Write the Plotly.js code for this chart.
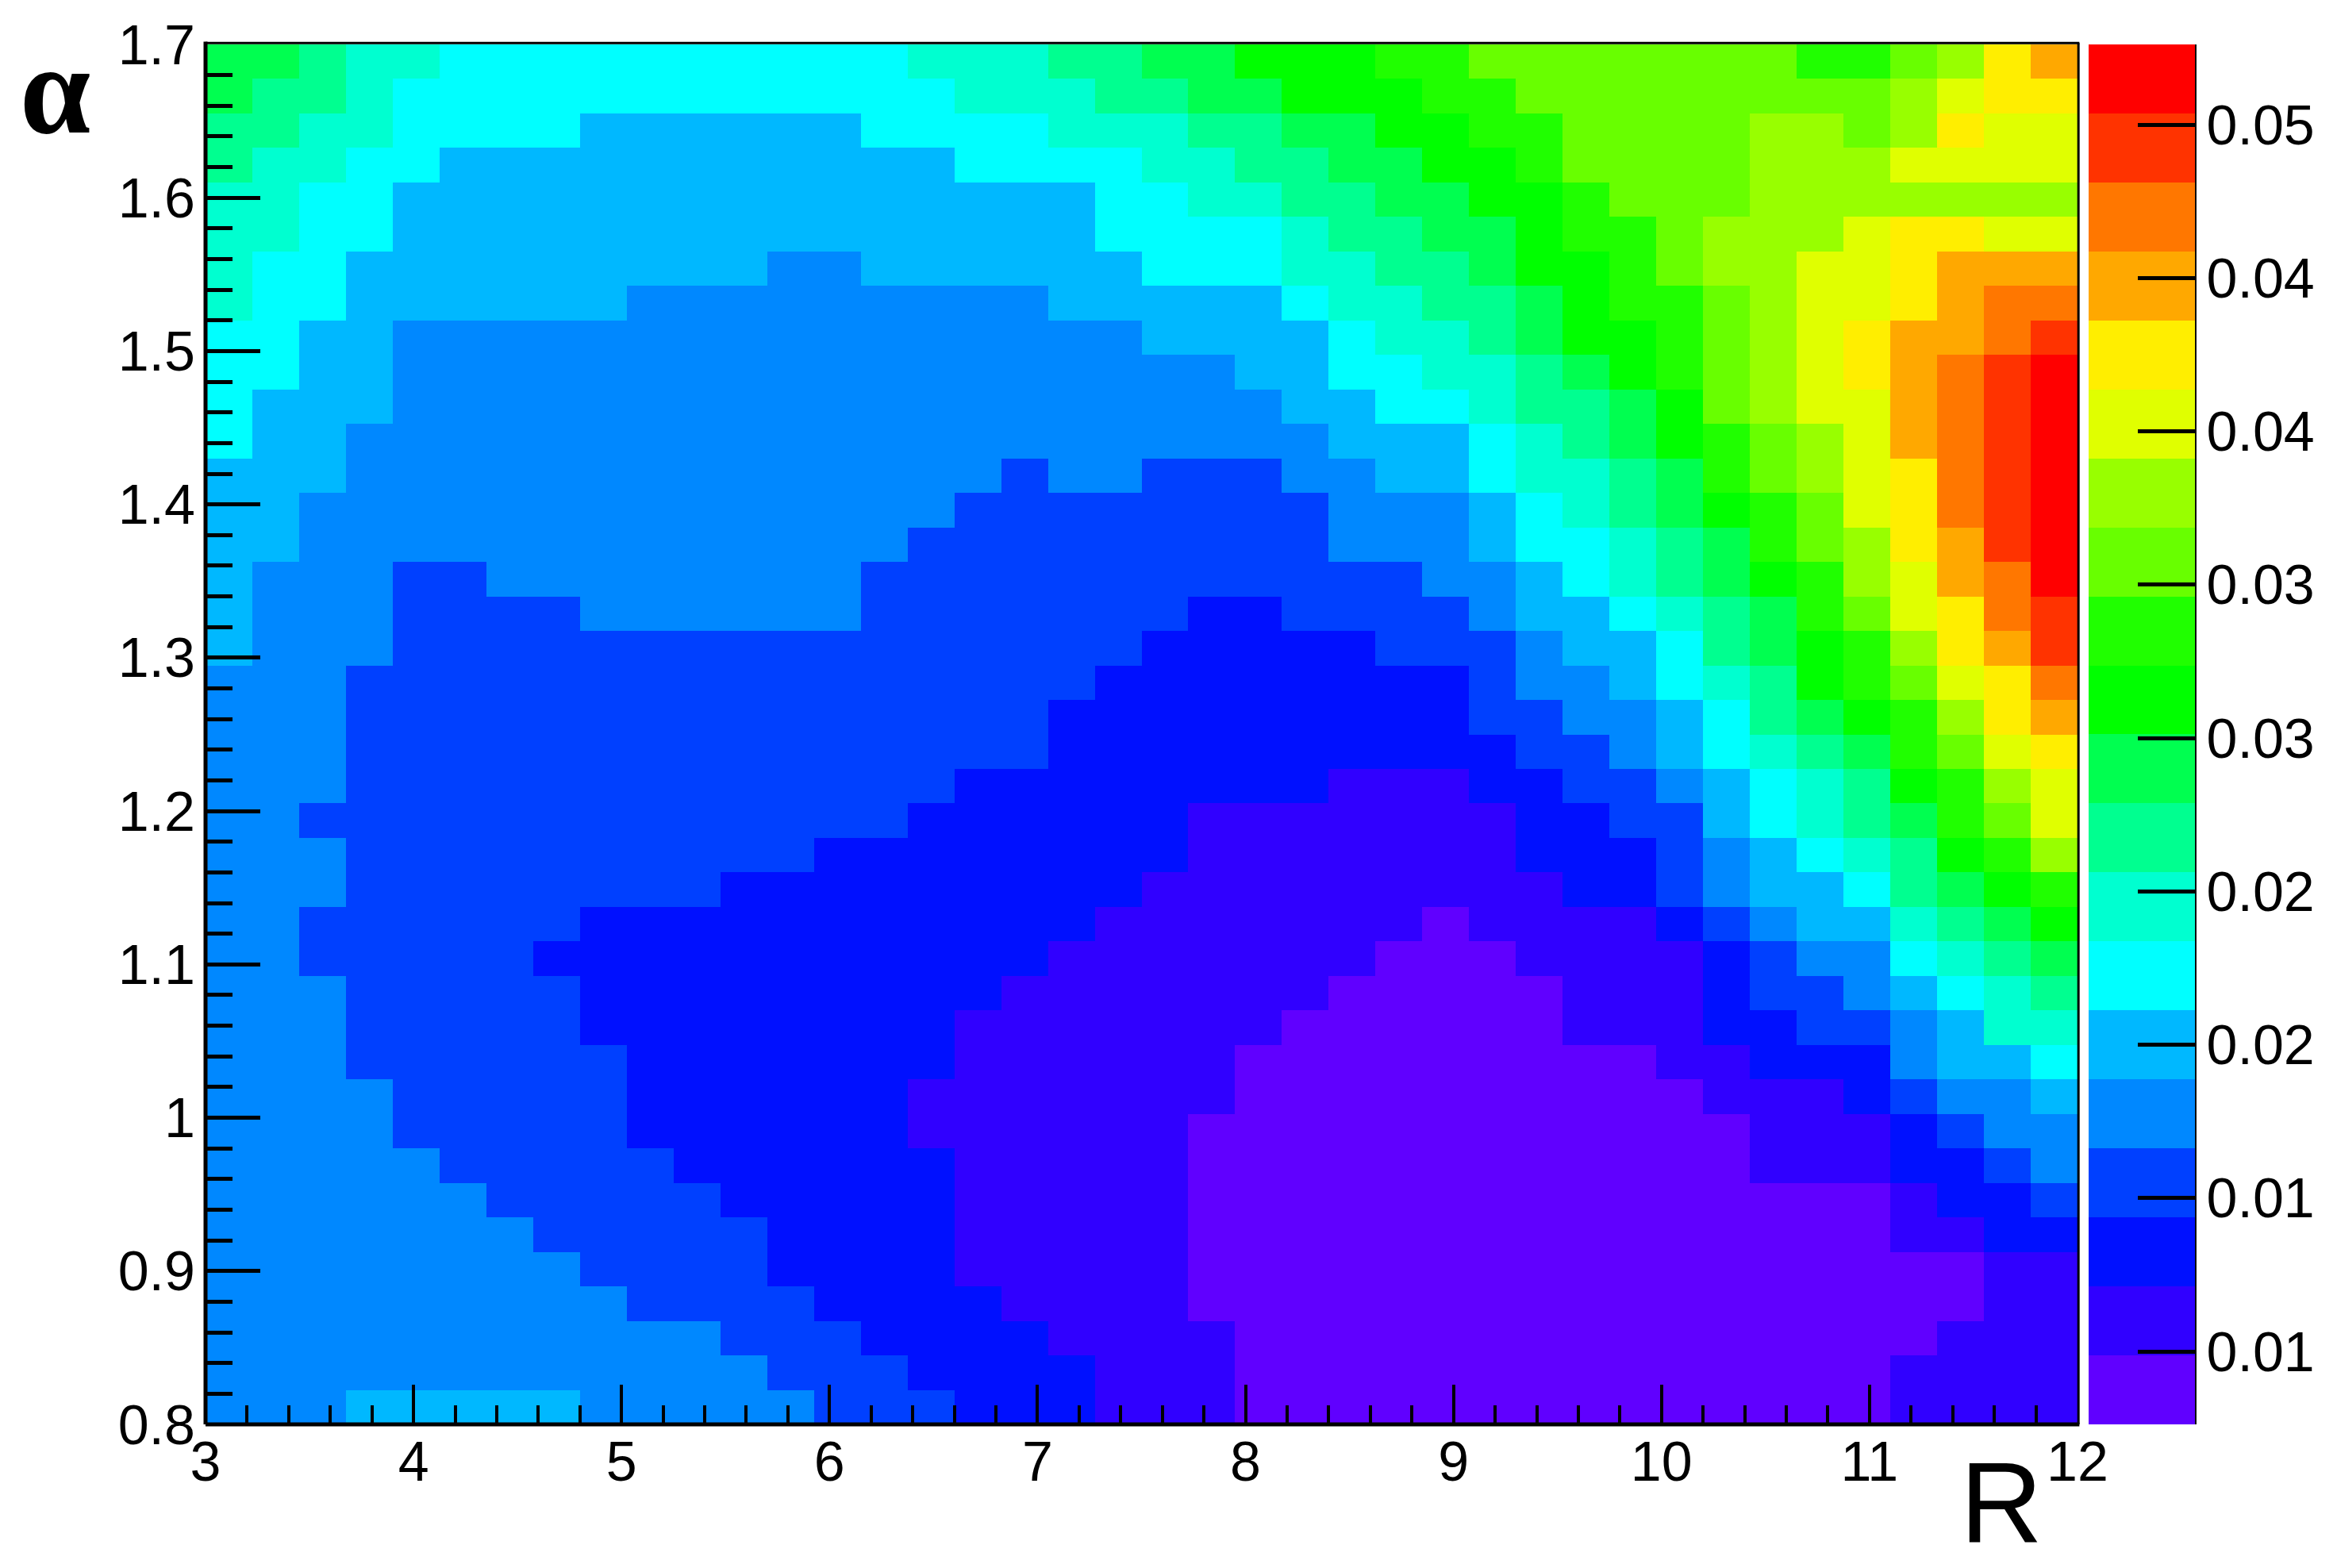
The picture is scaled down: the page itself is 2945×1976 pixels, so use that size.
<!DOCTYPE html>
<html lang="en">
<head>
    <meta charset="UTF-8">
    <style>
        html, body, #plot {
            height: 100%;
            width: 100%;
            margin: 0;
            padding: 0;
            overflow: hidden;
            background: #ffffff;
        }
    </style>
</head>
<body>
<div id="plot"></div>
<script src="https://cdn.plot.ly/plotly-3.0.1.min.js"></script>
<script>
    // colour bands of the palette, bottom to top
    const bandColors = ['#6000ff', '#3000ff', '#0010ff', '#0040ff', '#0088ff', '#00b8ff', '#00ffff', '#00ffd0', '#00ff90', '#00ff50',
                        '#00ff00', '#20ff00', '#68ff00', '#98ff00', '#e0ff00', '#ffee00', '#ffa800', '#ff7700', '#ff3300', '#ff0000'];
    // z value in the middle of each band
    const bandValues = [0.00875, 0.01100, 0.01325, 0.01550, 0.01775, 0.02000, 0.02225, 0.02450, 0.02675, 0.02900,
                        0.03125, 0.03350, 0.03575, 0.03800, 0.04025, 0.04250, 0.04475, 0.04700, 0.04925, 0.05150];
    const zMin = 0.00762;
    const zMax = 0.05262;

    // band of each cell, top row (alpha = 1.7) first, R = 3 on the left
    const bandRows = [
        [9,9,8,7,7,6,6,6,6,6,6,6,6,6,6,7,7,7,8,8,9,9,10,10,10,11,11,12,12,12,12,12,12,12,11,11,12,13,15,16],
        [9,8,8,7,6,6,6,6,6,6,6,6,6,6,6,6,7,7,7,8,8,9,9,10,10,10,11,11,12,12,12,12,12,12,12,12,13,14,15,15],
        [8,8,7,7,6,6,6,6,5,5,5,5,5,5,6,6,6,6,7,7,7,8,8,9,9,10,10,11,11,12,12,12,12,13,13,12,13,15,14,14],
        [8,7,7,6,6,5,5,5,5,5,5,5,5,5,5,5,6,6,6,6,7,7,8,8,9,9,10,10,11,12,12,12,12,13,13,13,14,14,14,14],
        [7,7,6,6,5,5,5,5,5,5,5,5,5,5,5,5,5,5,5,6,6,7,7,8,8,9,9,10,10,11,12,12,12,13,13,13,13,13,13,13],
        [7,7,6,6,5,5,5,5,5,5,5,5,5,5,5,5,5,5,5,6,6,6,6,7,8,8,9,9,10,11,11,12,13,13,13,14,15,15,14,14],
        [7,6,6,5,5,5,5,5,5,5,5,5,4,4,5,5,5,5,5,5,6,6,6,7,7,8,8,9,10,10,11,12,13,13,14,14,15,16,16,16],
        [7,6,6,5,5,5,5,5,5,4,4,4,4,4,4,4,4,4,5,5,5,5,5,6,7,7,8,8,9,10,11,11,12,13,14,14,15,16,17,17],
        [6,6,5,5,4,4,4,4,4,4,4,4,4,4,4,4,4,4,4,4,5,5,5,5,6,7,7,8,9,10,10,11,12,13,14,15,16,16,17,18],
        [6,6,5,5,4,4,4,4,4,4,4,4,4,4,4,4,4,4,4,4,4,4,5,5,6,6,7,7,8,9,10,11,12,13,14,15,16,17,18,19],
        [6,5,5,5,4,4,4,4,4,4,4,4,4,4,4,4,4,4,4,4,4,4,4,5,5,6,6,7,8,8,9,10,12,13,14,14,16,17,18,19],
        [6,5,5,4,4,4,4,4,4,4,4,4,4,4,4,4,4,4,4,4,4,4,4,4,5,5,5,6,7,8,9,10,11,12,13,14,16,17,18,19],
        [5,5,5,4,4,4,4,4,4,4,4,4,4,4,4,4,4,3,4,4,3,3,3,4,4,5,5,6,7,7,8,9,11,12,13,14,15,17,18,19],
        [5,5,4,4,4,4,4,4,4,4,4,4,4,4,4,4,3,3,3,3,3,3,3,3,4,4,4,5,6,7,8,9,10,11,12,14,15,17,18,19],
        [5,5,4,4,4,4,4,4,4,4,4,4,4,4,4,3,3,3,3,3,3,3,3,3,4,4,4,5,6,6,7,8,9,11,12,13,15,16,18,19],
        [5,4,4,4,3,3,4,4,4,4,4,4,4,4,3,3,3,3,3,3,3,3,3,3,3,3,4,4,5,6,7,8,9,10,11,13,14,16,17,19],
        [5,4,4,4,3,3,3,3,4,4,4,4,4,4,3,3,3,3,3,3,3,2,2,3,3,3,3,4,5,5,6,7,8,9,11,12,14,15,17,18],
        [5,4,4,4,3,3,3,3,3,3,3,3,3,3,3,3,3,3,3,3,2,2,2,2,2,3,3,3,4,5,5,6,8,9,10,11,13,15,16,18],
        [4,4,4,3,3,3,3,3,3,3,3,3,3,3,3,3,3,3,3,2,2,2,2,2,2,2,2,3,4,4,5,6,7,8,10,11,12,14,15,17],
        [4,4,4,3,3,3,3,3,3,3,3,3,3,3,3,3,3,3,2,2,2,2,2,2,2,2,2,3,3,4,4,5,6,8,9,10,11,13,15,16],
        [4,4,4,3,3,3,3,3,3,3,3,3,3,3,3,3,3,3,2,2,2,2,2,2,2,2,2,2,3,3,4,5,6,7,8,9,11,12,14,15],
        [4,4,4,3,3,3,3,3,3,3,3,3,3,3,3,3,2,2,2,2,2,2,2,2,1,1,1,2,2,3,3,4,5,6,7,8,10,11,13,14],
        [4,4,3,3,3,3,3,3,3,3,3,3,3,3,3,2,2,2,2,2,2,1,1,1,1,1,1,1,2,2,3,3,5,6,7,8,9,11,12,14],
        [4,4,4,3,3,3,3,3,3,3,3,3,3,2,2,2,2,2,2,2,2,1,1,1,1,1,1,1,2,2,2,3,4,5,6,7,8,10,11,13],
        [4,4,4,3,3,3,3,3,3,3,3,2,2,2,2,2,2,2,2,2,1,1,1,1,1,1,1,1,1,2,2,3,4,5,5,6,8,9,10,11],
        [4,4,3,3,3,3,3,3,2,2,2,2,2,2,2,2,2,2,2,1,1,1,1,1,1,1,0,1,1,1,1,2,3,4,5,5,7,8,9,10],
        [4,4,3,3,3,3,3,2,2,2,2,2,2,2,2,2,2,2,1,1,1,1,1,1,1,0,0,0,1,1,1,1,2,3,4,4,6,7,8,9],
        [4,4,4,3,3,3,3,3,2,2,2,2,2,2,2,2,2,1,1,1,1,1,1,1,0,0,0,0,0,1,1,1,2,3,3,4,5,6,7,8],
        [4,4,4,3,3,3,3,3,2,2,2,2,2,2,2,2,1,1,1,1,1,1,1,0,0,0,0,0,0,1,1,1,2,2,3,3,4,5,7,7],
        [4,4,4,3,3,3,3,3,3,2,2,2,2,2,2,2,1,1,1,1,1,1,0,0,0,0,0,0,0,0,0,1,1,2,2,2,4,5,5,6],
        [4,4,4,4,3,3,3,3,3,2,2,2,2,2,2,1,1,1,1,1,1,1,0,0,0,0,0,0,0,0,0,0,1,1,1,2,3,4,4,5],
        [4,4,4,4,3,3,3,3,3,2,2,2,2,2,2,1,1,1,1,1,1,0,0,0,0,0,0,0,0,0,0,0,0,1,1,1,2,3,4,4],
        [4,4,4,4,4,3,3,3,3,3,2,2,2,2,2,2,1,1,1,1,1,0,0,0,0,0,0,0,0,0,0,0,0,1,1,1,2,2,3,4],
        [4,4,4,4,4,4,3,3,3,3,3,2,2,2,2,2,1,1,1,1,1,0,0,0,0,0,0,0,0,0,0,0,0,0,0,0,1,2,2,3],
        [4,4,4,4,4,4,4,3,3,3,3,3,2,2,2,2,1,1,1,1,1,0,0,0,0,0,0,0,0,0,0,0,0,0,0,0,1,1,2,2],
        [4,4,4,4,4,4,4,4,3,3,3,3,2,2,2,2,1,1,1,1,1,0,0,0,0,0,0,0,0,0,0,0,0,0,0,0,0,0,1,1],
        [4,4,4,4,4,4,4,4,4,3,3,3,3,2,2,2,2,1,1,1,1,0,0,0,0,0,0,0,0,0,0,0,0,0,0,0,0,0,1,1],
        [4,4,4,4,4,4,4,4,4,4,4,3,3,3,2,2,2,2,1,1,1,1,0,0,0,0,0,0,0,0,0,0,0,0,0,0,0,1,1,1],
        [4,4,4,4,4,4,4,4,4,4,4,4,3,3,3,2,2,2,2,1,1,1,0,0,0,0,0,0,0,0,0,0,0,0,0,0,1,1,1,1],
        [4,4,4,5,5,5,5,5,4,4,4,4,4,3,3,3,2,2,2,1,1,1,0,0,0,0,0,0,0,0,0,0,0,0,0,0,1,1,1,1]
    ];

    const colorbarTicks = [0.01, 0.015, 0.02, 0.025, 0.03, 0.035, 0.04, 0.045, 0.05];
    const colorbarLabels = ['0.01', '0.01', '0.02', '0.02', '0.03', '0.03', '0.04', '0.04', '0.05'];

    const fontFamily = '"Liberation Sans", Arial, sans-serif';

    // Plotly fills from the bottom row up
    const z = bandRows.map(row => row.map(b => bandValues[b])).reverse();

    // hard-edged colorscale, one flat stop per band
    const colorscale = [];
    bandColors.forEach((color, i) => {
        colorscale.push([i / bandColors.length, color]);
        colorscale.push([(i + 1) / bandColors.length, color]);
    });

    const trace = {
        type: 'heatmap',
        z: z,
        x0: 3.1125,
        dx: 0.225,
        y0: 0.81125,
        dy: 0.0225,
        zmin: zMin,
        zmax: zMax,
        colorscale: colorscale,
        hoverongaps: false,
        colorbar: {
            x: 1.006,
            xanchor: 'left',
            xpad: 0,
            y: 0.5,
            yanchor: 'middle',
            ypad: 0,
            len: 1,
            // runs under the black line on the right, so the labels sit clear of it
            thickness: 134,
            outlinewidth: 0,
            borderwidth: 0,
            tickmode: 'array',
            tickvals: colorbarTicks,
            ticktext: colorbarLabels,
            ticks: 'inside',
            ticklen: 72,
            tickwidth: 5,
            tickcolor: '#000000',
            tickfont: {family: fontFamily, size: 70, color: '#000000'}
        }
    };

    function frameLine(x0, y0, x1, y1, width) {
        return {type: 'line', xref: 'paper', yref: 'paper', x0: x0, y0: y0, x1: x1, y1: y1, layer: 'above',
                line: {color: '#000000', width: width}};
    }

    const layout = {
        width: 2945,
        height: 1976,
        margin: {l: 259, r: 327, t: 56, b: 181, pad: 0, autoexpand: false},
        paper_bgcolor: '#ffffff',
        plot_bgcolor: '#ffffff',
        xaxis: {
            range: [3, 12],
            dtick: 1,
            tick0: 3,
            ticks: 'inside',
            ticklen: 50,
            tickwidth: 4,
            tickcolor: '#000000',
            showgrid: false,
            zeroline: false,
            showline: false,
            tickfont: {family: fontFamily, size: 70, color: '#000000'},
            minor: {dtick: 0.2, tick0: 3, ticks: 'inside', ticklen: 24, tickwidth: 4, tickcolor: '#000000', showgrid: false}
        },
        yaxis: {
            range: [0.8, 1.7],
            dtick: 0.1,
            tick0: 0.8,
            ticks: 'inside',
            ticklen: 69,
            tickwidth: 5,
            tickcolor: '#000000',
            showgrid: false,
            zeroline: false,
            showline: false,
            ticklabelstandoff: 12,
            tickfont: {family: fontFamily, size: 70, color: '#000000'},
            minor: {dtick: 0.02, tick0: 0.8, ticks: 'inside', ticklen: 34, tickwidth: 5, tickcolor: '#000000', showgrid: false}
        },
        shapes: [
            frameLine(0, 0, 0, 1.002, 5),
            frameLine(0, 0, 1.001, 0, 5),
            frameLine(0, 1.001, 1.001, 1.001, 3),
            frameLine(1.0005, 0, 1.0005, 1.001, 3),
            frameLine(1.0625, 0, 1.0625, 1, 5)
        ],
        annotations: [
            {text: 'R', xref: 'paper', yref: 'paper', x: 0.9595, y: -0.0569, xanchor: 'center', yanchor: 'middle', showarrow: false,
             font: {family: fontFamily, size: 144, color: '#000000'}},
            {text: 'α', xref: 'paper', yref: 'paper', x: -0.0805, y: 0.9675, xanchor: 'center', yanchor: 'middle', showarrow: false,
             font: {family: '"Liberation Serif", serif', size: 160, weight: 'bold', color: '#000000'}}
        ]
    };

    Plotly.newPlot('plot', [trace], layout, {displayModeBar: false});
</script>
</body>
</html>
